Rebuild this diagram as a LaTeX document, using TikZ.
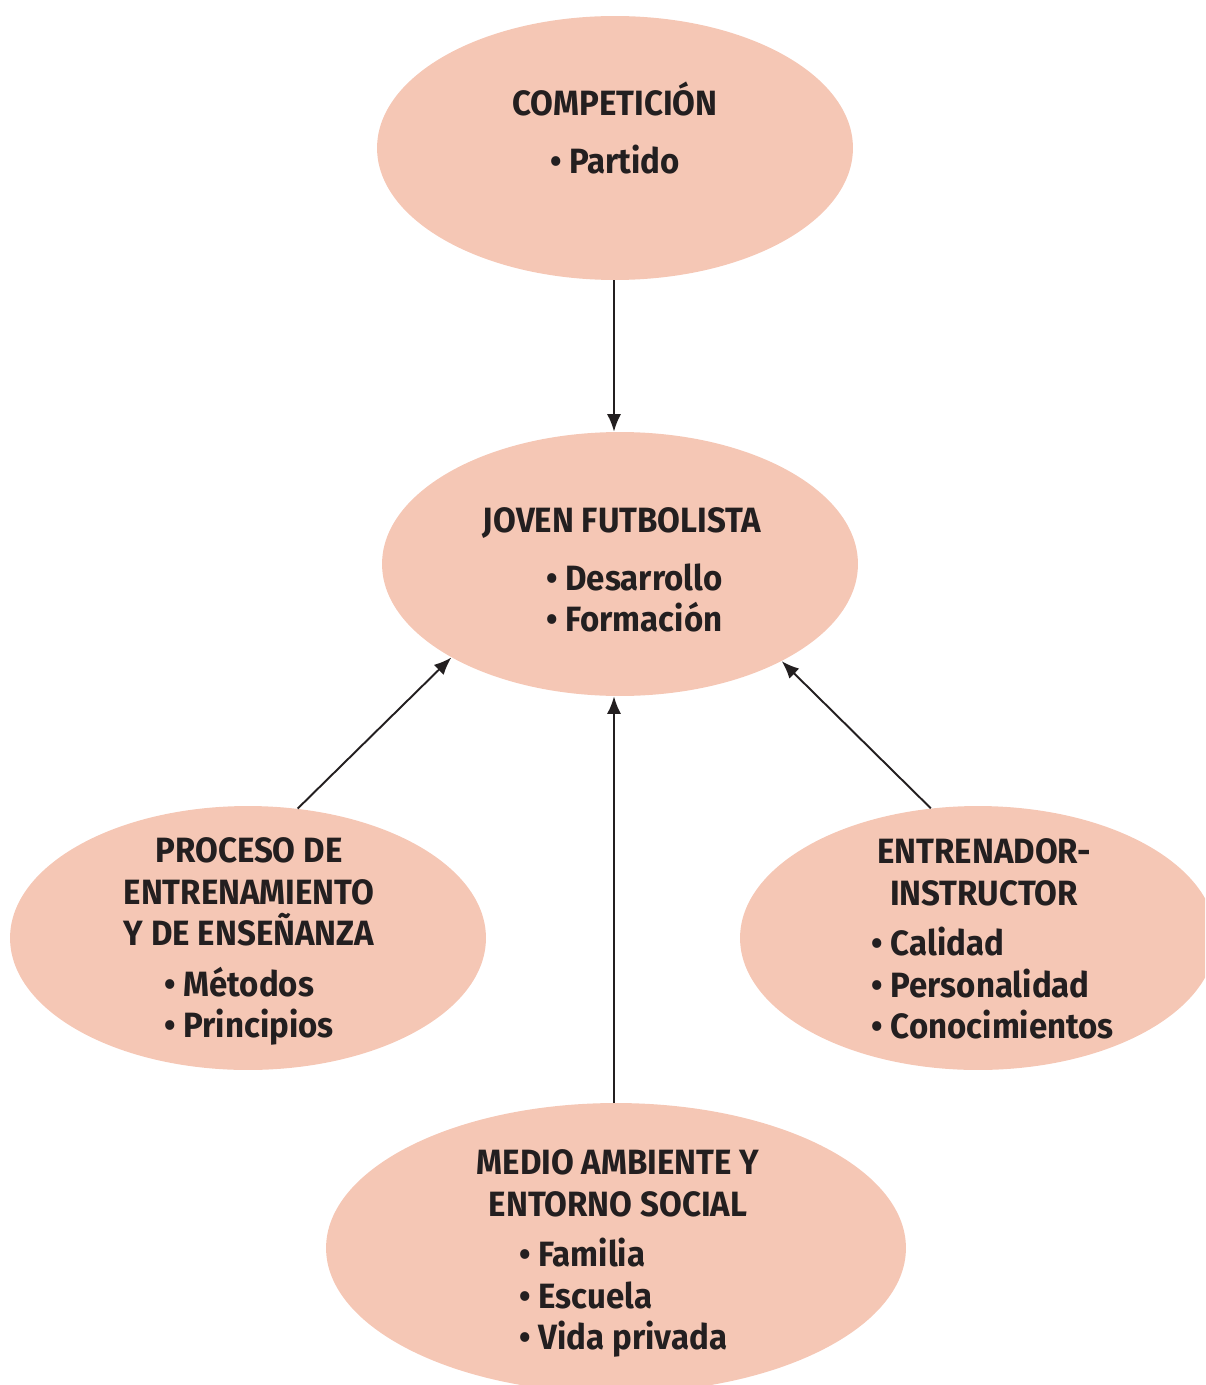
\documentclass[tikz,border=0pt]{standalone}
\usepackage{fontspec}
\setmainfont{Fira Sans}[FakeStretch=0.94]
\usetikzlibrary{shapes.geometric,arrows.meta}
\definecolor{salmon}{RGB}{245,199,181}
\definecolor{ink}{RGB}{35,31,32}

\begin{document}
\begin{tikzpicture}[x=0.02cm,y=-0.02cm,
    bubble/.style={ellipse,fill=salmon,inner sep=0pt,minimum width=9.52cm,minimum height=5.28cm},
    txt/.style={align=center,text=ink,font=\bfseries\fontsize{20}{23.6}\selectfont,inner sep=0pt},
    flow/.style={draw=ink,line width=1.1pt,-{Latex[length=10pt,width=8pt]}}]
                    \useasboundingbox (0,0) rectangle (1205,1385);
                    \clip (0,0) rectangle (1205,1385);
                    \node[bubble] (comp) at (615,148) {};
                    \node[bubble] (joven) at (620,564) {};
                    \node[bubble] (proc) at (248,938) {};
                    \node[bubble] (entr) at (978,938) {};
                    \node[bubble,minimum width=11.6cm,minimum height=5.8cm] (medio) at (616,1248) {};
                    \node[txt] (compt) at (615,134) {COMPETICIÓN\\[9pt]
                        \begin{tabular}[t]{@{}l@{}}• Partido\end{tabular}};
                    \node[txt] (jovent) at (622,576) {JOVEN FUTBOLISTA\\[9pt]
                        \begin{tabular}[t]{@{\hspace{14pt}}l@{}}• Desarrollo\\• Formación\end{tabular}};
                    \node[txt] (proct) at (249,944) {PROCESO DE\\ENTRENAMIENTO\\Y DE ENSEÑANZA\\[5pt]
                        \begin{tabular}[t]{@{}l@{}}• Métodos\\• Principios\end{tabular}};
                    \node[txt] (entrt) at (984,945) {ENTRENADOR-\\INSTRUCTOR\\[5pt]
                        \begin{tabular}[t]{@{\hspace{10pt}}l@{}}• Calidad\\• Personalidad\\• Conocimientos\end{tabular}};
                    \node[txt] (mediot) at (618,1256) {MEDIO AMBIENTE Y\\ENTORNO SOCIAL\\[5pt]
                        \begin{tabular}[t]{@{\hspace{6pt}}l@{}}• Familia\\• Escuela\\• Vida privada\end{tabular}};
                    \draw[flow] (comp.south -| 614,0) -- (joven.north -| 614,0);
                    \draw[flow] (medio.north -| 614,0) -- (joven.south -| 614,0);
                    \draw[flow] (proc.69) -- (joven.209);
                    \draw[flow] (entr.110) -- (joven.329);
                \end{tikzpicture}
\end{document}
